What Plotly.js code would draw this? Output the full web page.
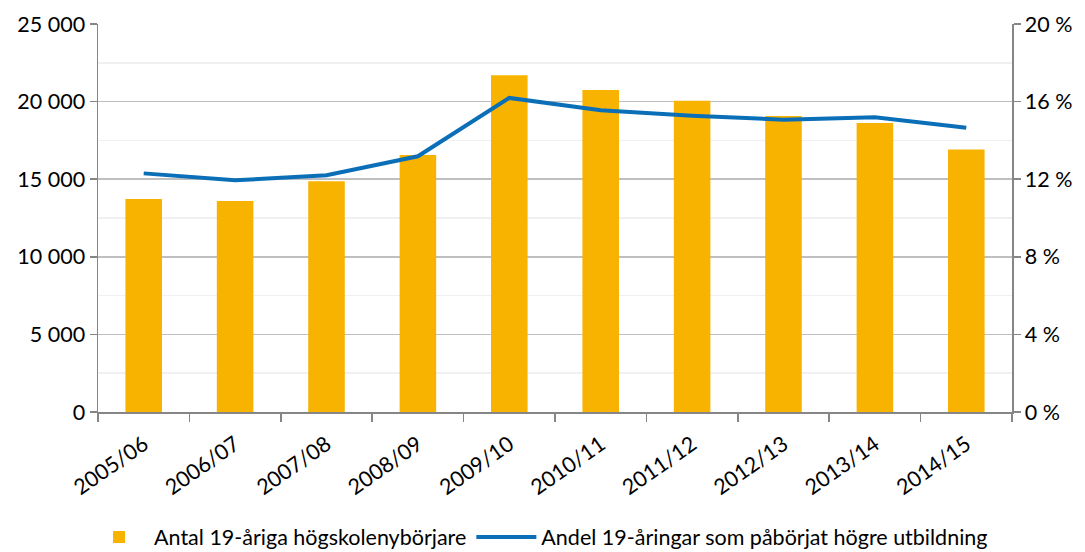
<!DOCTYPE html>
<html>
<head>
<meta charset="utf-8">
<script src="https://cdn.plot.ly/plotly-3.0.1.min.js"></script>
<style>html,body{margin:0;padding:0;background:#fff;}#chart{width:1085px;height:552px;}</style>
</head>
<body>
<div id="chart"></div>
<script>
const categories = ["2005/06","2006/07","2007/08","2008/09","2009/10","2010/11","2011/12","2012/13","2013/14","2014/15"];
const antal = [13720, 13600, 14860, 16560, 21690, 20750, 20060, 19070, 18620, 16920];
const andel = [12.3, 11.94, 12.2, 13.18, 16.19, 15.55, 15.27, 15.07, 15.19, 14.65];
const seriesNames = ["Antal 19-åriga högskolenybörjare", "Andel 19-åringar som påbörjat högre utbildning"];

const fontFam = "Lato, 'Open Sans', sans-serif";
const axisCol = "#868686";
const fs = 21.5;

const traces = [
  {
    type: "bar", x: categories, y: antal, name: seriesNames[0],
    marker: {color: "#F8B300"}, yaxis: "y", hoverinfo: "skip"
  },
  {
    type: "scatter", mode: "lines", x: categories, y: andel, name: seriesNames[1],
    line: {color: "#0B6FB8", width: 4}, yaxis: "y2", hoverinfo: "skip"
  }
];

const layout = {
  width: 1085, height: 552,
  margin: {l: 98, r: 73, t: 24, b: 140},
  paper_bgcolor: "#fff", plot_bgcolor: "#fff",
  separators: ", ",
  font: {family: fontFam, size: fs, color: "#000"},
  bargap: 0.6,
  showlegend: true,
  legend: {
    orientation: "h", x: 0.482, xanchor: "center",
    yref: "container", y: 0.027, yanchor: "middle",
    font: {family: fontFam, size: fs, color: "#000"}, itemwidth: 60, traceorder: "normal"
  },
  xaxis: {
    type: "category", range: [-0.5, 9.5], automargin: false,
    tickson: "boundaries", ticks: "outside", ticklen: 8, tickcolor: axisCol, tickwidth: 1.5,
    showline: true, linecolor: axisCol, linewidth: 1.5,
    tickangle: -35, showgrid: false, zeroline: false, ticklabelstandoff: 10,
    tickfont: {family: fontFam, size: fs}
  },
  yaxis: {
    range: [0, 25000], dtick: 5000, tick0: 0, tickformat: ",d", automargin: false,
    ticks: "outside", ticklen: 7, tickcolor: axisCol, tickwidth: 1.5,
    showline: true, linecolor: axisCol, linewidth: 1.5,
    showgrid: true, gridcolor: "#BFBFBF", gridwidth: 1.5, zeroline: false,
    minor: {dtick: 2500, showgrid: true, gridcolor: "#F0F0F0", gridwidth: 1.5},
    tickfont: {family: fontFam, size: fs}
  },
  yaxis2: {
    overlaying: "y", side: "right", range: [0, 20], dtick: 4, tick0: 0, automargin: false,
    ticksuffix: " %",
    ticks: "outside", ticklen: 7, tickcolor: axisCol, tickwidth: 1.5,
    showline: true, linecolor: axisCol, linewidth: 1.5,
    showgrid: false, zeroline: false,
    tickfont: {family: fontFam, size: fs}
  }
};

Plotly.newPlot("chart", traces, layout, {displayModeBar: false, staticPlot: true});
</script>
</body>
</html>
